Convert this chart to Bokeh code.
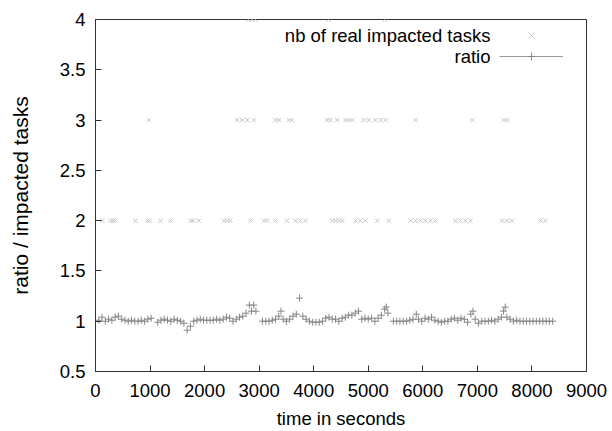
from bokeh.plotting import figure
from bokeh.models import (Range1d, FixedTicker, CustomJSTickFormatter, Legend,
                          LegendItem, Label)
from bokeh.embed import file_html
from bokeh.resources import INLINE

# ---- data ----
tasks2_t = [122, 275, 324, 366, 733, 947, 995, 1191, 1375, 1741, 1790, 1894,
            2352, 2413, 2474, 2841, 3085, 3146, 3299, 3513, 3666, 3758, 3849,
            4338, 4399, 4460, 4521, 4765, 4857, 4948, 5163, 5376, 5773, 5865,
            5957, 6048, 6140, 6232, 6598, 6690, 6781, 6873, 7454, 7546, 7637,
            8156, 8248]
tasks3_t = [977, 2597, 2688, 2780, 2902, 3299, 3360, 3543, 3604, 4246, 4307,
            4429, 4582, 4643, 4704, 4918, 5010, 5132, 5224, 5315, 5865, 6904,
            7484, 7546]
tasks4_t = [2800, 2870, 2930, 4270, 5300]

ratio_t = [0, 60, 120, 180, 240, 300, 360, 420, 480, 540, 600, 660, 720, 780,
           840, 900, 960, 1020, 1140, 1200, 1260, 1320, 1380, 1440, 1500, 1560,
           1620, 1680, 1740, 1800, 1860, 1920, 1980, 2040, 2100, 2160, 2220,
           2280, 2340, 2400, 2460, 2520, 2580, 2640, 2700, 2760, 2820, 2860,
           2900, 2940, 3060, 3120, 3180, 3240, 3300, 3360, 3400, 3440, 3500,
           3560, 3620, 3680, 3740, 3800, 3860, 3920, 3980, 4040, 4100, 4160,
           4220, 4280, 4340, 4400, 4460, 4520, 4580, 4640, 4700, 4760, 4820,
           4880, 4940, 5000, 5060, 5120, 5180, 5240, 5300, 5330, 5360, 5460,
           5520, 5580, 5640, 5700, 5760, 5820, 5880, 5920, 5980, 6040, 6100,
           6160, 6220, 6280, 6340, 6400, 6460, 6520, 6580, 6640, 6700, 6760,
           6820, 6880, 6920, 6960, 7020, 7080, 7140, 7200, 7260, 7320, 7380,
           7440, 7480, 7510, 7540, 7600, 7660, 7720, 7780, 7840, 7900, 7960,
           8020, 8080, 8140, 8200, 8260, 8320, 8380]
ratio_v = [1.00, 1.01, 1.04, 1.00, 1.02, 1.01, 1.04, 1.05, 1.02, 1.01, 1.00,
           1.01, 1.00, 1.00, 1.01, 1.00, 1.02, 1.03, 0.99, 1.01, 1.02, 1.01,
           1.00, 1.02, 1.01, 1.00, 0.98, 0.91, 0.95, 1.00, 1.01, 1.02, 1.01,
           1.01, 1.01, 1.01, 1.02, 1.01, 1.02, 1.04, 1.03, 1.00, 1.02, 1.04,
           1.05, 1.08, 1.16, 1.10, 1.16, 1.10, 1.00, 1.00, 1.00, 1.01, 1.02,
           1.05, 1.10, 1.02, 1.00, 1.02, 1.05, 1.07, 1.23, 1.05, 1.02, 1.00,
           0.99, 0.99, 0.99, 1.00, 1.03, 1.04, 1.02, 1.02, 1.00, 1.03, 1.04,
           1.06, 1.06, 1.08, 1.10, 1.02, 1.03, 1.02, 1.03, 1.00, 1.03, 1.06,
           1.12, 1.14, 1.08, 1.00, 1.00, 1.00, 1.00, 1.00, 1.01, 1.02, 1.07,
           1.02, 1.00, 1.03, 1.02, 1.04, 1.01, 1.00, 0.99, 1.00, 1.00, 1.02,
           1.03, 1.01, 1.03, 1.02, 0.99, 1.07, 1.10, 1.02, 0.98, 1.00, 1.00,
           1.00, 1.01, 1.00, 1.02, 1.04, 1.10, 1.14, 1.04, 1.02, 1.00, 1.01,
           1.00, 1.00, 1.00, 1.00, 1.00, 1.00, 1.00, 1.00, 1.00, 1.00, 1.00]

x_ticks = [0, 1000, 2000, 3000, 4000, 5000, 6000, 7000, 8000, 9000]
y_ticks = [0.5, 1, 1.5, 2, 2.5, 3, 3.5, 4]

tasks_label = "nb of real impacted tasks"
ratio_label = "ratio"
x_label = "time in seconds"
y_label = "ratio / impacted tasks"

FONT = "Liberation Sans"
FS = "18.5px"
C_TASKS = "#c4c4c4"
C_RATIO = "#868686"

p = figure(width=612, height=431, output_backend="svg", toolbar_location=None,
           x_range=Range1d(0, 9000), y_range=Range1d(0.5, 4),
           min_border_left=95, min_border_right=26, min_border_top=19,
           min_border_bottom=58)
p.grid.visible = False
p.outline_line_color = "#333333"
p.outline_line_width = 1
p.background_fill_color = "white"
p.border_fill_color = "white"

tasks_r = []
for ts, lvl in ((tasks2_t, 2), (tasks3_t, 3), (tasks4_t, 4)):
    r = p.scatter(x=ts, y=[lvl] * len(ts), marker="x", size=6,
                  line_color=C_TASKS, line_width=1)
    tasks_r.append(r)

ratio_r = p.scatter(x=ratio_t, y=ratio_v, marker="cross", size=7,
                    line_color=C_RATIO, line_width=1)
ratio_line = p.line(x=ratio_t, y=ratio_v, line_color="#999999", line_width=1.2,
                    visible=False)

for ax, ticks in ((p.xaxis, x_ticks), (p.yaxis, y_ticks)):
    ax.ticker = FixedTicker(ticks=ticks)
    ax.major_tick_in = 6
    ax.major_tick_out = 0
    ax.minor_tick_line_color = None
    ax.axis_line_color = "#333333"
    ax.major_tick_line_color = "#333333"
    ax.major_label_text_font = FONT
    ax.major_label_text_font_size = FS
    ax.major_label_text_color = "black"
    ax.axis_label_text_font = FONT
    ax.axis_label_text_font_size = FS
    ax.axis_label_text_font_style = "normal"
    ax.axis_label_text_color = "black"

p.yaxis.axis_label_text_font_size = "21px"
p.yaxis.formatter = CustomJSTickFormatter(code="return tick.toString();")
p.xaxis.axis_label = x_label
p.yaxis.axis_label = y_label
p.xaxis.major_label_standoff = 12
p.xaxis.axis_label_standoff = 8
p.yaxis.major_label_standoff = 10
p.yaxis.axis_label_standoff = 25

legend = Legend(items=[LegendItem(label=" ", renderers=[tasks_r[0]]),
                       LegendItem(label=" ", renderers=[ratio_line, ratio_r])],
                location=(404, 305), glyph_width=64, glyph_height=20,
                label_width=0, label_standoff=0, label_height=20,
                padding=0, margin=0, spacing=1,
                border_line_color=None, background_fill_alpha=0,
                label_text_font_size="1px")
p.add_layout(legend, "center")

for txt, yy in ((tasks_label, 336), (ratio_label, 315)):
    p.add_layout(Label(x=395, y=yy, x_units="screen", y_units="screen",
                       text=txt, text_align="right", text_baseline="middle",
                       text_font=FONT, text_font_size=FS, text_color="black"))

open("out.html", "w").write(file_html(p, INLINE))
